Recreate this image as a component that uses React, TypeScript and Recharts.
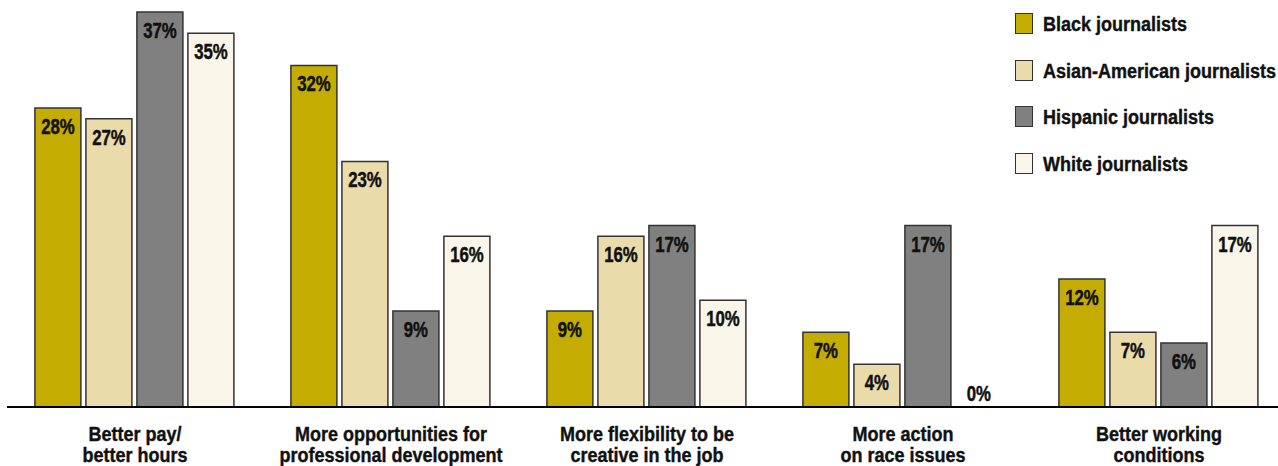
import { BarChart, Bar, XAxis, YAxis, Legend, LabelList } from "recharts";

const categories = [
  "Better pay/\nbetter hours",
  "More opportunities for\nprofessional development",
  "More flexibility to be\ncreative in the job",
  "More action\non race issues",
  "Better working\nconditions",
];

const blackValues = [28, 32, 9, 7, 12];
const asianValues = [27, 23, 16, 4, 7];
const hispanicValues = [37, 9, 17, 17, 6];
const whiteValues = [35, 16, 10, 0, 17];

const seriesNames = [
  "Black journalists",
  "Asian-American journalists",
  "Hispanic journalists",
  "White journalists",
];
const seriesKeys = ["black", "asian", "hispanic", "white"];
const seriesColors = ["#c4ad00", "#e9dbaa", "#808080", "#f9f5e8"];

const data = categories.map((name, i) => ({
  name,
  black: blackValues[i],
  asian: asianValues[i],
  hispanic: hispanicValues[i],
  white: whiteValues[i],
}));

// no condensed font installed, so squeeze Arial-metric bold horizontally
const FONT = '"Liberation Sans", Arial, sans-serif';

const renderValue = (props: any) => {
  const { x, y, width, height, value } = props;
  const cx = Number(x) + Number(width) / 2;
  const zero = Number(value) === 0 || Math.abs(Number(height)) < 1;
  const ty = zero ? Number(y) + Number(height) - 6 : Number(y) + 26;
  return (
    <text
      transform={`translate(${cx} ${ty}) scale(0.78 1)`}
      x={0}
      y={0}
      textAnchor="middle"
      fontFamily={FONT}
      fontWeight="bold"
      fontSize={21.5}
      fill="#111"
      stroke="#111"
      strokeWidth={0.5}
    >
      {value}%
    </text>
  );
};

const renderTick = (props: any) => {
  const { x, y, payload } = props;
  const lines = String(payload.value).split("\n");
  return (
    <g transform={`translate(${x} ${y}) scale(0.9 1)`}>
      <text
        textAnchor="middle"
        fontFamily={FONT}
        fontWeight="bold"
        fontSize={20}
        fill="#111"
        stroke="#111"
        strokeWidth={0.4}
      >
        {lines.map((line, i) => (
          <tspan key={i} x={0} y={32 + i * 21.5}>
            {line}
          </tspan>
        ))}
      </text>
    </g>
  );
};

const renderLegend = () => (
  <div style={{ position: "relative", width: 270, height: 190, fontFamily: FONT }}>
    {seriesNames.map((name, i) => (
      <div key={name} style={{ position: "absolute", left: 0, top: 13 + i * 46.5, height: 22 }}>
        <div
          style={{
            position: "absolute",
            left: 0,
            top: 0,
            width: 16,
            height: 19,
            background: seriesColors[i],
            border: "1.5px solid #333",
          }}
        />
        <span
          style={{
            position: "absolute",
            left: 28,
            top: -1,
            whiteSpace: "nowrap",
            fontWeight: "bold",
            fontSize: 20,
            lineHeight: "24px",
            color: "#111",
            WebkitTextStroke: "0.4px #111",
            transform: "scaleX(0.9)",
            transformOrigin: "left center",
          }}
        >
          {name}
        </span>
      </div>
    ))}
  </div>
);

export default function App() {
  return (
    <div style={{ position: "absolute", left: 0, top: 0, width: 1278, height: 466, overflow: "hidden", background: "#fff" }}>
      <BarChart
        width={1290}
        height={466}
        data={data}
        margin={{ top: 12, right: 3, bottom: 0, left: 7 }}
        barCategoryGap="10.9%"
        barGap={5}
      >
        <YAxis hide domain={[0, 37]} />
        <XAxis
          dataKey="name"
          height={59}
          interval={0}
          tickLine={false}
          tickSize={0}
          axisLine={{ stroke: "#000", strokeWidth: 2 }}
          tick={renderTick}
        />
        <Legend
          layout="vertical"
          align="center"
          verticalAlign="middle"
          wrapperStyle={{ top: 0, left: 1015, width: 265, height: 190 }}
          content={renderLegend}
        />
        {seriesKeys.map((key, i) => (
          <Bar
            key={key}
            dataKey={key}
            name={seriesNames[i]}
            fill={seriesColors[i]}
            stroke="#333"
            strokeWidth={1.5}
            minPointSize={0.01}
            isAnimationActive={false}
          >
            <LabelList dataKey={key} content={renderValue} />
          </Bar>
        ))}
      </BarChart>
    </div>
  );
}
